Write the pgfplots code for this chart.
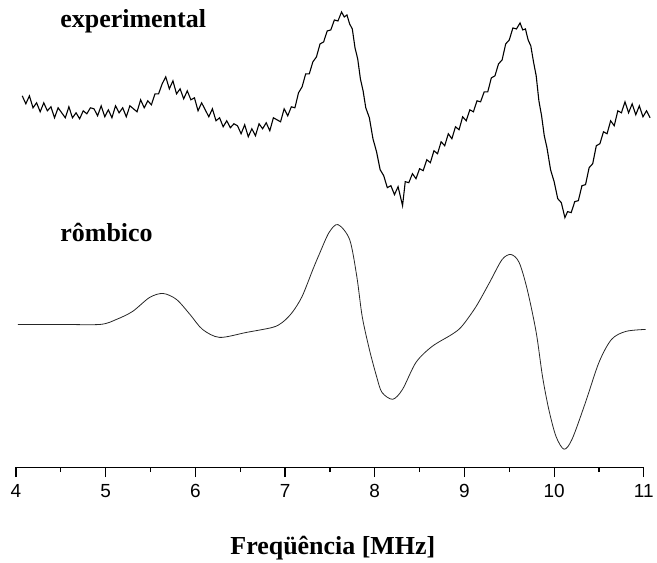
\documentclass[border=0pt]{standalone}
\usepackage{fontspec}
\setmainfont{Liberation Serif}
\newfontfamily\ticksans{Liberation Sans}
\usepackage{pgfplots}
\pgfplotsset{compat=1.18}
\begin{document}
\begin{tikzpicture}
\begin{axis}[
  scale only axis,
  width=629pt, height=468pt,
  xmin=4, xmax=11, ymin=0, ymax=468,
  enlargelimits=false,
  clip=false,
  axis x line=bottom,
  axis y line=none,
  x axis line style={-, line width=1.2pt},
  xtick={4,5,...,11},
  minor x tick num=1,
  tick align=outside,
  major tick length=10pt,
  minor tick length=5pt,
  every tick/.style={black, line width=1.2pt},
  /pgf/number format/assume math mode=true,
  xticklabel style={font=\ticksans\fontsize{19}{19}\selectfont, yshift=-4pt},
]
\addplot[black, line width=1.1pt] coordinates {
(4.07,372)(4.11,364)(4.15,372)(4.19,360)(4.23,365)(4.27,356)(4.31,365)(4.35,357)(4.39,361)(4.43,350)
(4.47,360)(4.51,355)(4.55,350)(4.59,361)(4.63,350)(4.67,355)(4.71,349)(4.75,357)(4.79,354)(4.83,360)
(4.87,359)(4.91,352)(4.95,362)(4.99,351)(5.03,358)(5.07,350)(5.11,362)(5.15,355)(5.19,360)(5.23,351)
(5.27,362)(5.31,359)(5.35,356)(5.39,368)(5.43,360)(5.47,367)(5.51,363)(5.55,374)(5.59,374)(5.63,384)
(5.67,391)(5.71,379)(5.75,387)(5.79,374)(5.83,379)(5.87,369)(5.91,377)(5.95,368)(5.99,370)(6.03,357)
(6.07,365)(6.11,358)(6.15,351)(6.19,359)(6.23,347)(6.27,350)(6.31,341)(6.35,347)(6.39,340)(6.43,344)
(6.47,342)(6.51,334)(6.55,343)(6.59,331)(6.63,339)(6.67,332)(6.71,344)(6.75,339)(6.79,345)(6.83,337)
(6.87,350)(6.91,348)(6.95,346)(6.99,359)(7.03,352)(7.07,361)(7.11,360)(7.15,375)(7.19,381)(7.23,394)
(7.27,394)(7.31,406)(7.35,411)(7.39,424)(7.43,426)(7.47,437)(7.51,438)(7.55,448)(7.59,447)(7.63,456)
(7.66,451)(7.69,453)(7.72,444)(7.75,439)(7.78,420)(7.81,409)(7.84,389)(7.87,377)(7.90,360)(7.94,350)
(7.98,329)(8.02,316)(8.06,298)(8.10,292)(8.14,280)(8.18,282)(8.22,273)(8.26,281)(8.31,262)(8.34,286)
(8.38,285)(8.42,294)(8.46,289)(8.50,299)(8.54,297)(8.58,308)(8.62,305)(8.66,317)(8.70,314)(8.74,326)
(8.78,322)(8.82,334)(8.86,329)(8.90,341)(8.94,338)(8.98,351)(9.02,347)(9.06,358)(9.10,356)(9.14,367)
(9.18,366)(9.22,376)(9.26,376)(9.30,390)(9.34,392)(9.38,404)(9.42,408)(9.46,424)(9.50,428)(9.54,440)
(9.58,439)(9.62,445)(9.65,438)(9.68,439)(9.71,428)(9.74,422)(9.77,406)(9.80,392)(9.83,367)(9.86,352)
(9.89,332)(9.92,320)(9.96,298)(10.00,286)(10.04,269)(10.08,265)(10.12,250)(10.15,256)(10.19,255)(10.23,266)
(10.27,267)(10.31,282)(10.35,283)(10.39,300)(10.43,304)(10.47,322)(10.51,324)(10.55,336)(10.59,334)(10.63,347)
(10.67,342)(10.71,357)(10.75,355)(10.79,366)(10.83,355)(10.87,364)(10.91,353)(10.95,362)(10.99,351)(11.03,357)
(11.07,350)
};
\addplot[black!85, line width=0.8pt, smooth, tension=0.5] coordinates {
(4.02,143)(4.50,143)(4.94,143)(5.12,148)(5.30,156)(5.49,170)(5.64,174)(5.79,168)(5.94,153)(6.08,138)
(6.27,130)(6.57,135)(6.86,140)(6.97,145)(7.08,155)(7.19,171)(7.31,198)(7.38,213)(7.49,235)(7.59,243)
(7.72,228)(7.80,191)(7.86,151)(7.94,118)(8.02,91)(8.08,75)(8.20,68)(8.31,78)(8.46,105)(8.64,121)
(8.86,133)(8.97,141)(9.13,161)(9.28,185)(9.42,208)(9.52,213)(9.61,205)(9.70,178)(9.80,135)(9.87,91)
(9.94,58)(10.02,31)(10.11,18)(10.20,28)(10.35,65)(10.50,105)(10.64,128)(10.80,136)(11.02,138)
};
\node[anchor=base west, font=\fontsize{26}{26}\selectfont\bfseries] at (axis cs:4.456,440) {experimental};
\node[anchor=base west, font=\fontsize{26}{26}\selectfont\bfseries] at (axis cs:4.456,226) {rômbico};
\node[anchor=base, font=\fontsize{26}{26}\selectfont\bfseries] at (axis cs:7.533,-87) {Freqüência [MHz]};
\path (axis cs:3.822,468) (axis cs:11.134,-94);
\end{axis}
\end{tikzpicture}
\end{document}
